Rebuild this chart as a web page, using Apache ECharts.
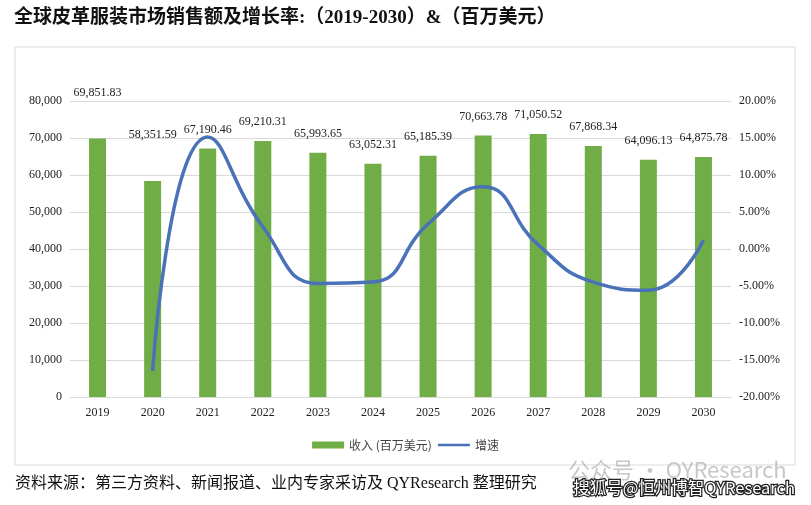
<!DOCTYPE html>
<html><head><meta charset="utf-8">
<script src="https://cdn.jsdelivr.net/npm/echarts@6/dist/echarts.min.js"></script>
<style>html,body{margin:0;padding:0;background:#fff}#c{width:811px;height:505px}</style>
</head><body><div id="c"></div>
<script>
const years = ['2019','2020','2021','2022','2023','2024','2025','2026','2027','2028','2029','2030'];
const revenue = [69851.83,58351.59,67190.46,69210.31,65993.65,63052.31,65185.39,70663.78,71050.52,67868.34,64096.13,64875.78];
const growth = [null,-16.46,15.15,3.01,-4.65,-4.46,3.38,8.40,0.55,-4.48,-5.56,1.22];
const leftTicks = {min:0,max:80000,interval:10000};
const rightTicks = {min:-20,max:20,interval:5};

// label placement tweaks (Excel labels moved by hand for first two bars)
const labelDistance = [40,40,13,13,13,13,13,13,13,13,13,13];

const serif = '"Liberation Serif","Times New Roman","Noto Sans CJK SC",serif';
const chart = echarts.init(document.getElementById('c'));
chart.setOption({
  animation:false,
  graphic:[
    {type:'rect',shape:{x:15,y:47,width:780,height:418},style:{fill:'none',stroke:'#d9d9d9',lineWidth:1}},
    {type:'text',left:14,top:9,style:{text:'全球皮革服装市场销售额及增长率:（2019-2030）&（百万美元）',font:'bold 19px "Liberation Serif","Noto Sans CJK SC",serif',fill:'#111'}},
    {type:'text',left:15,top:476,style:{text:'资料来源：第三方资料、新闻报道、业内专家采访及 QYResearch 整理研究',font:'16px "Liberation Serif","Noto Sans CJK SC",serif',fill:'#111'}},
    {type:'text',left:568,top:459,style:{text:'公众号 · QYResearch',font:'22px "Noto Sans CJK SC",sans-serif',fill:'rgba(175,175,175,0.7)'}},
    {type:'text',left:572,top:478,style:{text:'搜狐号@恒州博智QYResearch',font:'16.5px "Noto Sans CJK SC",sans-serif',fill:'#fff',stroke:'#222',lineWidth:2.5}}
  ],
  grid:{left:70,right:80,top:101,bottom:108},
  legend:{bottom:49,left:'center',itemGap:6,textStyle:{fontSize:12,color:'#444',fontFamily:'"Noto Sans CJK SC",sans-serif'},
    itemWidth:32,itemHeight:7,
    data:[{name:'收入 (百万美元)',icon:'rect',itemStyle:{color:'#70AD47'}},
          {name:'增速',icon:'path://M0,2.3L32,2.3L32,4.7L0,4.7Z M0,0L0.05,0L0.05,0.05Z M31.95,6.95L32,6.95L32,7L31.95,7Z',itemStyle:{color:'#4A72B8'}}]},
  xAxis:{type:'category',data:years,axisTick:{show:false},axisLine:{lineStyle:{color:'#d9d9d9'}},
    axisLabel:{color:'#222',fontSize:12,fontFamily:serif,margin:10}},
  yAxis:[
    {type:'value',min:leftTicks.min,max:leftTicks.max,interval:leftTicks.interval,
     axisLabel:{color:'#222',fontSize:12,fontFamily:serif,margin:8,formatter:v=>v.toLocaleString('en-US')},
     splitLine:{lineStyle:{color:'#d9d9d9'}},axisLine:{show:false},axisTick:{show:false}},
    {type:'value',min:rightTicks.min,max:rightTicks.max,interval:rightTicks.interval,position:'right',
     axisLabel:{color:'#222',fontSize:12,fontFamily:serif,margin:8,formatter:v=>v.toFixed(2)+'%'},
     splitLine:{show:false},axisLine:{show:false},axisTick:{show:false}}
  ],
  series:[
    {name:'收入 (百万美元)',type:'bar',barWidth:17,itemStyle:{color:'#70AD47'},
     data:revenue.map((v,i)=>({value:v,label:{distance:labelDistance[i]}})),
     label:{show:true,position:'top',color:'#222',fontSize:12,fontFamily:serif,
       formatter:p=>p.value.toLocaleString('en-US',{minimumFractionDigits:2,maximumFractionDigits:2})}},
    {name:'增速',type:'line',yAxisIndex:1,data:growth,smooth:0.5,showSymbol:false,symbol:'none',
     lineStyle:{color:'#4A72B8',width:3.5},itemStyle:{color:'#4A72B8'}}
  ]
});
</script></body></html>
